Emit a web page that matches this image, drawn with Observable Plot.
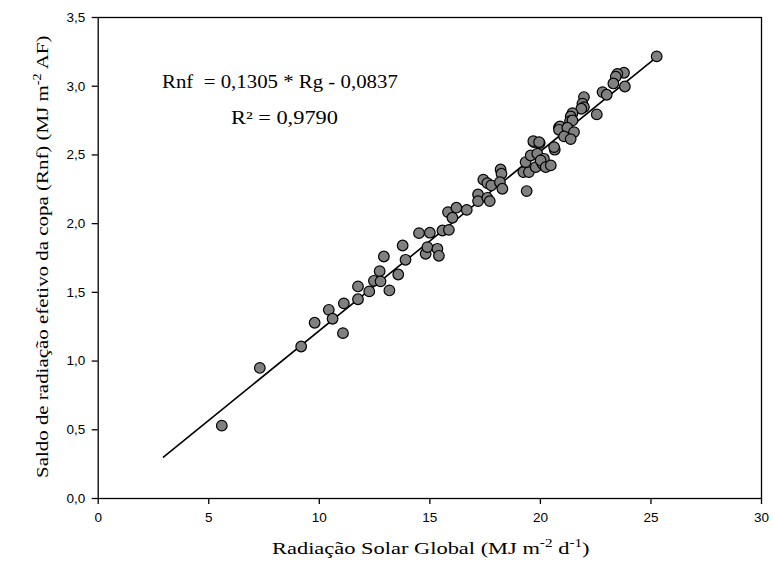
<!DOCTYPE html>
<html><head><meta charset="utf-8">
<script src="https://cdn.jsdelivr.net/npm/d3@7"></script>
<script src="https://cdn.jsdelivr.net/npm/@observablehq/plot@0.6"></script>
<style>body{margin:0;background:#fff}</style>
</head><body><div id="chart"></div>
<script>
const rg = [5.59,7.31,9.18,9.79,10.43,10.6,11.07,11.11,11.75,11.75,12.26,12.47,12.73,12.77,13.17,12.92,13.57,13.9,13.77,14.51,15.0,14.81,14.89,15.34,15.41,15.57,15.86,15.82,16.2,16.02,16.67,17.18,17.18,17.6,17.71,17.42,17.6,17.78,18.2,18.24,18.17,18.28,19.38,19.23,19.48,19.33,19.56,19.71,19.97,19.86,19.79,20.09,20.16,20.01,20.24,20.47,20.65,20.84,25.26,23.78,23.48,23.41,23.3,23.82,22.81,23.0,21.97,21.9,21.97,21.85,22.55,21.45,21.37,21.34,21.45,20.89,20.84,21.22,21.52,21.07,21.37,19.68,19.94,20.62];
const rnf = [0.53,0.95,1.106,1.279,1.373,1.308,1.203,1.42,1.45,1.543,1.507,1.584,1.654,1.58,1.514,1.761,1.63,1.737,1.841,1.931,1.934,1.781,1.829,1.817,1.766,1.95,1.955,2.084,2.116,2.043,2.10,2.212,2.164,2.188,2.164,2.32,2.295,2.278,2.394,2.363,2.302,2.254,2.237,2.375,2.375,2.448,2.496,2.593,2.586,2.509,2.411,2.436,2.472,2.46,2.411,2.424,2.538,2.70,3.217,3.098,3.09,3.07,3.02,2.998,2.957,2.938,2.921,2.873,2.848,2.836,2.795,2.804,2.78,2.746,2.751,2.707,2.683,2.698,2.666,2.635,2.615,2.60,2.593,2.557];
const slope = 0.1305, intercept = -0.0837;
const lineRange = [2.95, 25.3];
const xTicks = [0,5,10,15,20,25,30];
const yTicks = [0,0.5,1,1.5,2,2.5,3,3.5];

const pts = rg.map((x,i)=>({x, y: rnf[i]}));
const fit = lineRange.map(x=>({x, y: slope*x+intercept}));
const fmt = d => d3.format(".1f")(d).replace(".", ",");

const W = 773, H = 579, ml = 97.7, mr = 12, mt = 17, mb = 81;
const plot = Plot.plot({
  width: W, height: H,
  marginLeft: ml, marginRight: mr, marginTop: mt, marginBottom: mb,
  style: {fontFamily: "'Liberation Sans', Arial, sans-serif", fontSize: "13px", color: "#000", background: "#fff"},
  x: {domain: [0,30], ticks: xTicks, label: null},
  y: {domain: [0,3.5], ticks: yTicks, label: null, tickFormat: fmt},
  marks: [
    Plot.frame({stroke: "#000", strokeWidth: 1.3}),
    Plot.axisX({ticks: xTicks, tickSize: 6, tickPadding: 8, label: null, fontSize: 13.5, stroke:"#000", strokeWidth: 1.3}),
    Plot.axisY({ticks: yTicks, tickSize: 6, tickPadding: 7, label: null, tickFormat: fmt, fontSize: 13.5, stroke:"#000", strokeWidth: 1.3}),
    Plot.line(fit, {x: "x", y: "y", stroke: "#000", strokeWidth: 1.6}),
    Plot.dot(pts, {x: "x", y: "y", r: 5.3, fill: "#808080", stroke: "#000", strokeWidth: 1.2})
  ]
});
document.getElementById("chart").appendChild(plot);

const svg = d3.select(plot);
const serif = "'Liberation Serif', 'Times New Roman', serif";
// parts: [text, isSuperscript]
function label(parts, tx, ty, rot, target, size) {
  const g = svg.append("g").attr("transform", `translate(${tx},${ty}) rotate(${rot})`);
  const t = g.append("text").attr("x", 0).attr("y", 0)
    .style("font-family", serif).style("font-size", size + "px")
    .style("text-anchor", "start").style("fill", "#000").style("white-space", "pre");
  let sup = false;
  for (const [s, isSup] of parts) {
    const ts = t.append("tspan").text(s);
    if (isSup && !sup) ts.attr("dy", -size * 0.42).style("font-size", (size * 0.68) + "px");
    else if (!isSup && sup) ts.attr("dy", size * 0.42);
    else if (isSup) ts.style("font-size", (size * 0.68) + "px");
    sup = isSup;
  }
  const w = t.node().getBBox().width;
  if (w > 0) t.attr("transform", `scale(${target / w},1)`);
}
label([["Radiação Solar Global (MJ m", false], ["-2", true], [" d", false], ["-1", true], [")", false]],
  272, 554, 0, 318, 17.5);
label([["Saldo de radiação efetivo da copa (Rnf) (MJ m", false], ["-2", true], [" AF)", false]],
  48, 478, -90, 443, 17.5);
label([["Rnf  = 0,1305 * Rg - 0,0837", false]], 162, 88, 0, 236, 18);
label([["R² = 0,9790", false]], 231, 124, 0, 107, 18);
</script></body></html>
